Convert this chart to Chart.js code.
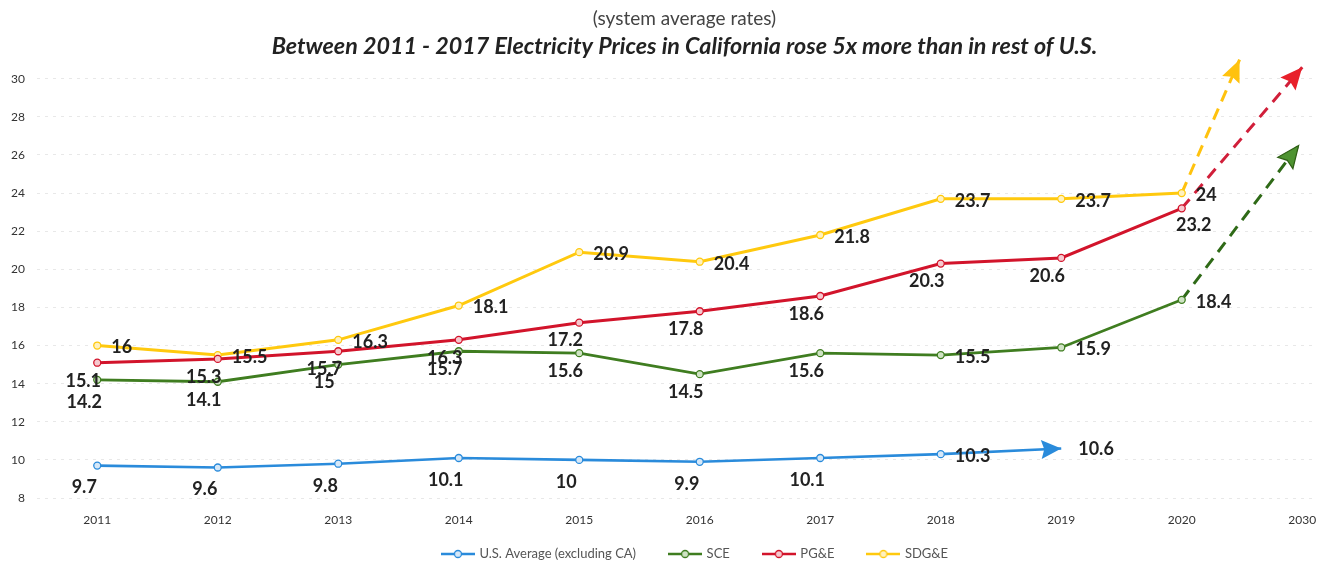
<!DOCTYPE html>
<html>
<head>
<meta charset="utf-8">
<script src="https://cdn.jsdelivr.net/npm/chart.js@4"></script>
<style>
html,body{margin:0;padding:0;background:#fff;}
#wrap{width:1322px;height:563px;}
</style>
</head>
<body>
<div id="wrap"><canvas id="c" width="1322" height="563"></canvas></div>
<script>
// ---------- data ----------
const titleText = 'Between 2011 - 2017 Electricity Prices in California rose 5x more than in rest of U.S.';
const subtitleText = '(system average rates)';
const years = ['2011','2012','2013','2014','2015','2016','2017','2018','2019','2020','2030'];
const seriesNames = ['U.S. Average (excluding CA)', 'SCE', 'PG&E', 'SDG&E'];
const usAverage = [9.7, 9.6, 9.8, 10.1, 10, 9.9, 10.1, 10.3, 10.6];
const sce  = [14.2, 14.1, 15, 15.7, 15.6, 14.5, 15.6, 15.5, 15.9, 18.4];
const pge  = [15.1, 15.3, 15.7, 16.3, 17.2, 17.8, 18.6, 20.3, 20.6, 23.2];
const sdge = [16, 15.5, 16.3, 18.1, 20.9, 20.4, 21.8, 23.7, 23.7, 24];
// projected trend toward 2030 (arrow tips) for SCE, PG&E, SDG&E
const projectionEndX = [9.97, 10, 9.48];
const projectionEndY = [26.5, 30.6, 31.0];
const yTicks = [8, 10, 12, 14, 16, 18, 20, 22, 24, 26, 28, 30];

// ---------- style ----------
const FONT = 'Lato';
const C = {
  blue: '#2A8BDB', blueFill: '#d6e8f8',
  green: '#3F7D20', greenFill: '#cfe3c4',
  red: '#D2142B', redFill: '#f6c9cf',
  yellow: '#FFC90E', yellowFill: '#fff1bf'
};
const labelPlacement = [
  ['B','B','B','B','B','B','B','r','R'],
  ['B','b','b','b','b','b','b','r','r','r'],
  ['b','b','b','b','b','b','b','b','b','d'],
  ['r','r','r','r','r','r','r','r','r','r']
];
const placementOffsets = {
  b: {align: 'center', dx: -14, dy: 18},
  B: {align: 'center', dx: -13, dy: 22},
  r: {align: 'left', dx: 14, dy: 2},
  R: {align: 'left', dx: 17, dy: 1},
  d: {align: 'center', dx: 12, dy: 17}
};

const toPoints = arr => arr.map((v, i) => ({x: i, y: v}));
const lastIdx = arr => arr.length - 1;

function legendIcon(color, fill) {
  const cv = document.createElement('canvas');
  cv.width = 34; cv.height = 10;
  const g = cv.getContext('2d');
  g.strokeStyle = color; g.lineWidth = 2.5;
  g.beginPath(); g.moveTo(0, 5); g.lineTo(34, 5); g.stroke();
  g.fillStyle = fill; g.lineWidth = 1.3;
  g.beginPath(); g.arc(17, 5, 3.5, 0, Math.PI * 2); g.fill(); g.stroke();
  return cv;
}
const legendIcons = [
  legendIcon(C.blue, C.blueFill), legendIcon(C.green, C.greenFill),
  legendIcon(C.red, C.redFill), legendIcon(C.yellow, C.yellowFill)
];

function mainSeries(label, values, color, fill, width, extra) {
  return Object.assign({
    label, data: toPoints(values),
    borderColor: color, backgroundColor: color,
    borderWidth: width, tension: 0,
    pointRadius: 3.5, pointBorderWidth: 1.3,
    pointBackgroundColor: fill, pointBorderColor: color
  }, extra || {});
}
function projection(values, k, color, head) {
  const i = lastIdx(values);
  return {
    label: '', isProjection: true,
    data: [{x: i, y: values[i]}, {x: projectionEndX[k], y: projectionEndY[k]}],
    borderColor: color, borderWidth: 3, borderDash: [12, 8],
    pointRadius: 0, clip: false, arrow: head
  };
}

// ---------- plugins ----------
const arrowPlugin = {
  id: 'arrowHeads',
  afterDatasetsDraw(chart) {
    const ctx = chart.ctx;
    chart.data.datasets.forEach((ds, di) => {
      if (!ds.arrow) return;
      const pts = chart.getDatasetMeta(di).data;
      const a = pts[pts.length - 2], b = pts[pts.length - 1];
      const ang = Math.atan2(b.y - a.y, b.x - a.x);
      const L = ds.arrow.len, W = ds.arrow.width / 2;
      ctx.save();
      ctx.translate(b.x, b.y); ctx.rotate(ang);
      ctx.beginPath();
      ctx.moveTo(0, 0); ctx.lineTo(-L, -W); ctx.lineTo(-L * 0.85, 0); ctx.lineTo(-L, W); ctx.closePath();
      ctx.fillStyle = ds.arrow.fill; ctx.fill();
      if (ds.arrow.stroke) { ctx.strokeStyle = ds.arrow.stroke; ctx.lineWidth = 1.2; ctx.stroke(); }
      ctx.restore();
    });
  }
};

const valueLabelPlugin = {
  id: 'valueLabels',
  afterDatasetsDraw(chart) {
    const ctx = chart.ctx;
    ctx.save();
    ctx.font = 'bold 18px ' + FONT;
    ctx.fillStyle = '#222';
    ctx.textBaseline = 'middle';
    chart.data.datasets.forEach((ds, di) => {
      if (ds.isProjection) return;
      const pts = chart.getDatasetMeta(di).data;
      ds.data.forEach((d, i) => {
        const p = placementOffsets[labelPlacement[di][i]];
        ctx.textAlign = p.align;
        ctx.fillText(String(d.y), pts[i].x + p.dx, pts[i].y + p.dy);
      });
    });
    ctx.restore();
  }
};

const LEGEND_TOP = 513.5;
const nudgePlugin = {
  id: 'nudge',
  afterLayout(chart) {
    chart.boxes.forEach(b => {
      if (b === chart.legend) {
        const dy = LEGEND_TOP - b.top;
        b.left += 37; b.right += 37; b.top += dy; b.bottom += dy;
      } else if (b.options && (b.options.text === titleText || b.options.text === subtitleText)) {
        b.left += 26; b.right += 26;
      }
    });
  }
};

// ---------- chart ----------
new Chart(document.getElementById('c'), {
  type: 'line',
  data: {
    datasets: [
      mainSeries(seriesNames[0], usAverage, C.blue, C.blueFill, 2.6, {
        pointRadius: ctx => ctx.dataIndex === lastIdx(usAverage) ? 0 : 3.5,
        arrow: {len: 20, width: 19, fill: C.blue}
      }),
      mainSeries(seriesNames[1], sce, C.green, C.greenFill, 2.8),
      mainSeries(seriesNames[2], pge, C.red, C.redFill, 3),
      mainSeries(seriesNames[3], sdge, C.yellow, C.yellowFill, 3),
      projection(sce, 0, '#2F6A17', {len: 22, width: 19, fill: '#4E9331', stroke: '#2F5F15'}),
      projection(pge, 1, '#D11F3A', {len: 22, width: 20, fill: '#E8202A'}),
      projection(sdge, 2, '#FFC20E', {len: 22, width: 19, fill: '#FFC20E'})
    ]
  },
  options: {
    responsive: false,
    animation: false,
    layout: {padding: {top: 0, left: 0, right: 5, bottom: -32}},
    scales: {
      x: {
        type: 'linear', min: -0.5, max: 10.12,
        afterBuildTicks: s => { s.ticks = years.map((_, i) => ({value: i})); },
        afterFit: s => { s.height = 40; s.paddingLeft = 0; s.paddingRight = 0; },
        ticks: {
          callback: v => years[v] !== undefined ? years[v] : '',
          padding: 7, autoSkip: false, maxRotation: 0,
          font: {family: FONT, size: 12}, color: '#333'
        },
        grid: {display: false},
        border: {display: false}
      },
      y: {
        min: 8, max: 30,
        afterBuildTicks: s => { s.ticks = yTicks.map(v => ({value: v})); },
        afterFit: s => { s.width = 37; },
        ticks: {padding: 12, font: {family: FONT, size: 12}, color: '#333'},
        grid: {color: 'rgba(0,0,0,0.09)', drawTicks: false, lineWidth: 1},
        border: {display: false, dash: [3, 5]}
      }
    },
    plugins: {
      subtitle: {
        display: true, text: subtitleText, weight: 2500,
        font: {family: FONT, size: 19, weight: 'normal'}, color: '#444',
        padding: {top: 7.5, bottom: 0}
      },
      title: {
        display: true, text: titleText,
        font: {family: FONT, size: 23.3, weight: 'bold', style: 'italic'}, color: '#222',
        padding: {top: 2, bottom: 18.5}
      },
      legend: {
        position: 'bottom',
        labels: {
          usePointStyle: true, pointStyleWidth: 30, padding: 34,
          font: {family: FONT, size: 13}, color: '#555',
          generateLabels(chart) {
            const items = Chart.defaults.plugins.legend.labels.generateLabels(chart);
            return items.filter(it => it.datasetIndex < 4).map(it => {
              it.pointStyle = legendIcons[it.datasetIndex];
              return it;
            });
          }
        }
      },
      tooltip: {enabled: false}
    }
  },
  plugins: [arrowPlugin, valueLabelPlugin, nudgePlugin]
});
</script>
</body>
</html>
